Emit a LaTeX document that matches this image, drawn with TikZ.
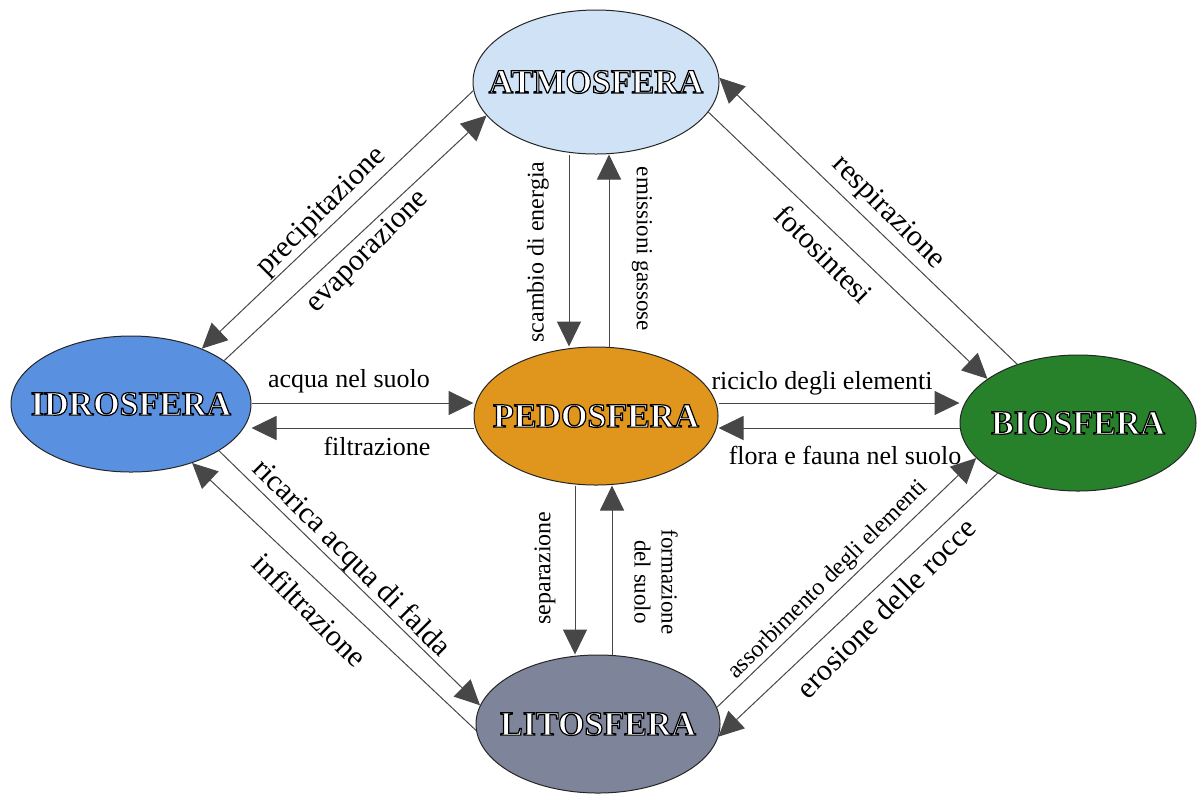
\documentclass[tikz,border=0pt]{standalone}
\usepackage{fontspec}
\setmainfont{Liberation Serif}
\usetikzlibrary{
  arrows.meta,
  calc,
  positioning,
  shapes.geometric,
}
\definecolor{atmfill}{HTML}{CFE2F6}
\definecolor{idrofill}{HTML}{5A90E0}
\definecolor{pedofill}{HTML}{E0951C}
\definecolor{biofill}{HTML}{27802A}
\definecolor{litofill}{HTML}{7E8499}
\tikzset{
  >={Triangle[length=12.5pt,width=12pt]},
}
\newcommand\sphname[1]{\makebox[0pt]{\textcolor{white}{%
  \special{pdf:literal direct q 2 Tr 0.6 w 0 G}#1\special{pdf:literal direct Q}}}}

\begin{document}
\begin{tikzpicture}[
    x=0.5pt, y=-0.5pt,
    sphere/.style={ellipse, draw=black!85, line width=0.5pt, inner sep=0pt,
      minimum width=122pt, minimum height=69pt,
      font=\fontsize{17}{17}\selectfont\bfseries},
    flow/.style={->, draw=black!72, line width=0.5pt},
    lbl/.style={font=\fontsize{#1}{#1}\selectfont, inner sep=0pt},
  ]
  \useasboundingbox (0,0) rectangle (1198,794);

  \node [sphere, fill=atmfill, minimum width=123pt, minimum height=72pt] (atm) at (596,82) {\sphname{ATMOSFERA}};
  \node [sphere, fill=idrofill, minimum width=120pt, minimum height=68pt] (idro) at (131,404) {\sphname{IDROSFERA}};
  \node [sphere, fill=pedofill] (pedo) at (596,416) {\sphname{PEDOSFERA}};
  \node [sphere, fill=biofill, minimum width=118pt, minimum height=68pt] (bio) at (1078,423) {\sphname{BIOSFERA}};
  \node [sphere, fill=litofill] (lito) at (598,724) {\sphname{LITOSFERA}};

  \draw [flow] (atm.184) -- (idro.38);
  \draw [flow] (idro.25) -- (atm.197);
  \draw [flow] (bio.136) -- (atm.2);
  \draw [flow] (atm.-15) -- (bio.154);
  \draw [flow] ([xshift=-13.5pt]atm.south) -- ([xshift=-13.5pt]atm.south |- pedo.north);
  \draw [flow] ([xshift=6.5pt]pedo.north) -- ([xshift=6.5pt]pedo.north |- atm.south);
  \draw [flow] ([yshift=6.5pt]pedo.west -| idro.east) -- ([yshift=6.5pt]pedo.west);
  \draw [flow] ([yshift=-6pt]pedo.west) -- ([yshift=-6pt]pedo.west -| idro.east);
  \draw [flow] ([yshift=6.5pt]pedo.east) -- ([yshift=6.5pt]pedo.east -| bio.west);
  \draw [flow] ([yshift=-6pt]pedo.east -| bio.west) -- ([yshift=-6pt]pedo.east);
  \draw [flow] ([xshift=-10.5pt]pedo.south) -- ([xshift=-10.5pt]pedo.south |- lito.north);
  \draw [flow] ([xshift=8pt]pedo.south |- lito.north) -- ([xshift=8pt]pedo.south);
  \draw [flow] (idro.-28) -- (lito.171);
  \draw [flow] (lito.183) -- (idro.-44);
  \draw [flow] (lito.8) -- (bio.199);
  \draw [flow] (bio.212) -- (lito.-6);

  \node [lbl=15, rotate=45] (precip) at (322,212) {precipitazione};
  \node [lbl=15, rotate=45] (evap) at (368,252) {evaporazione};
  \node [lbl=15, rotate=-45] (resp) at (888,213) {respirazione};
  \node [lbl=15, rotate=-45] (foto) at (824,254) {fotosintesi};
  \node [lbl=12, rotate=90] (scambio) at (538,252) {scambio di energia};
  \node [lbl=11.5, rotate=-90] (emiss) at (642,249) {emissioni gassose};
  \node [lbl=13] (acqua) at (349,381) {acqua nel suolo};
  \node [lbl=13] (filtr) at (377,446) {filtrazione};
  \node [lbl=13] (riciclo) at (822,383) {riciclo degli elementi};
  \node [lbl=13] (flora) at (845,455) {flora e fauna nel suolo};
  \node [lbl=15, rotate=-45] (ricarica) at (351,559) {ricarica acqua di falda};
  \node [lbl=15, rotate=-45] (infiltr) at (310,610) {infiltrazione};
  \node [lbl=12, rotate=90] (separ) at (545,568) {separazione};
  \node [lbl=11.5, rotate=-90, align=center] (formaz) at (656,582) {formazione\\[2pt]del suolo};
  \node [lbl=12, rotate=45] (assorb) at (828,580) {assorbimento degli elementi};
  \node [lbl=15, rotate=45] (erosione) at (886,608) {erosione delle rocce};
\end{tikzpicture}
\end{document}
